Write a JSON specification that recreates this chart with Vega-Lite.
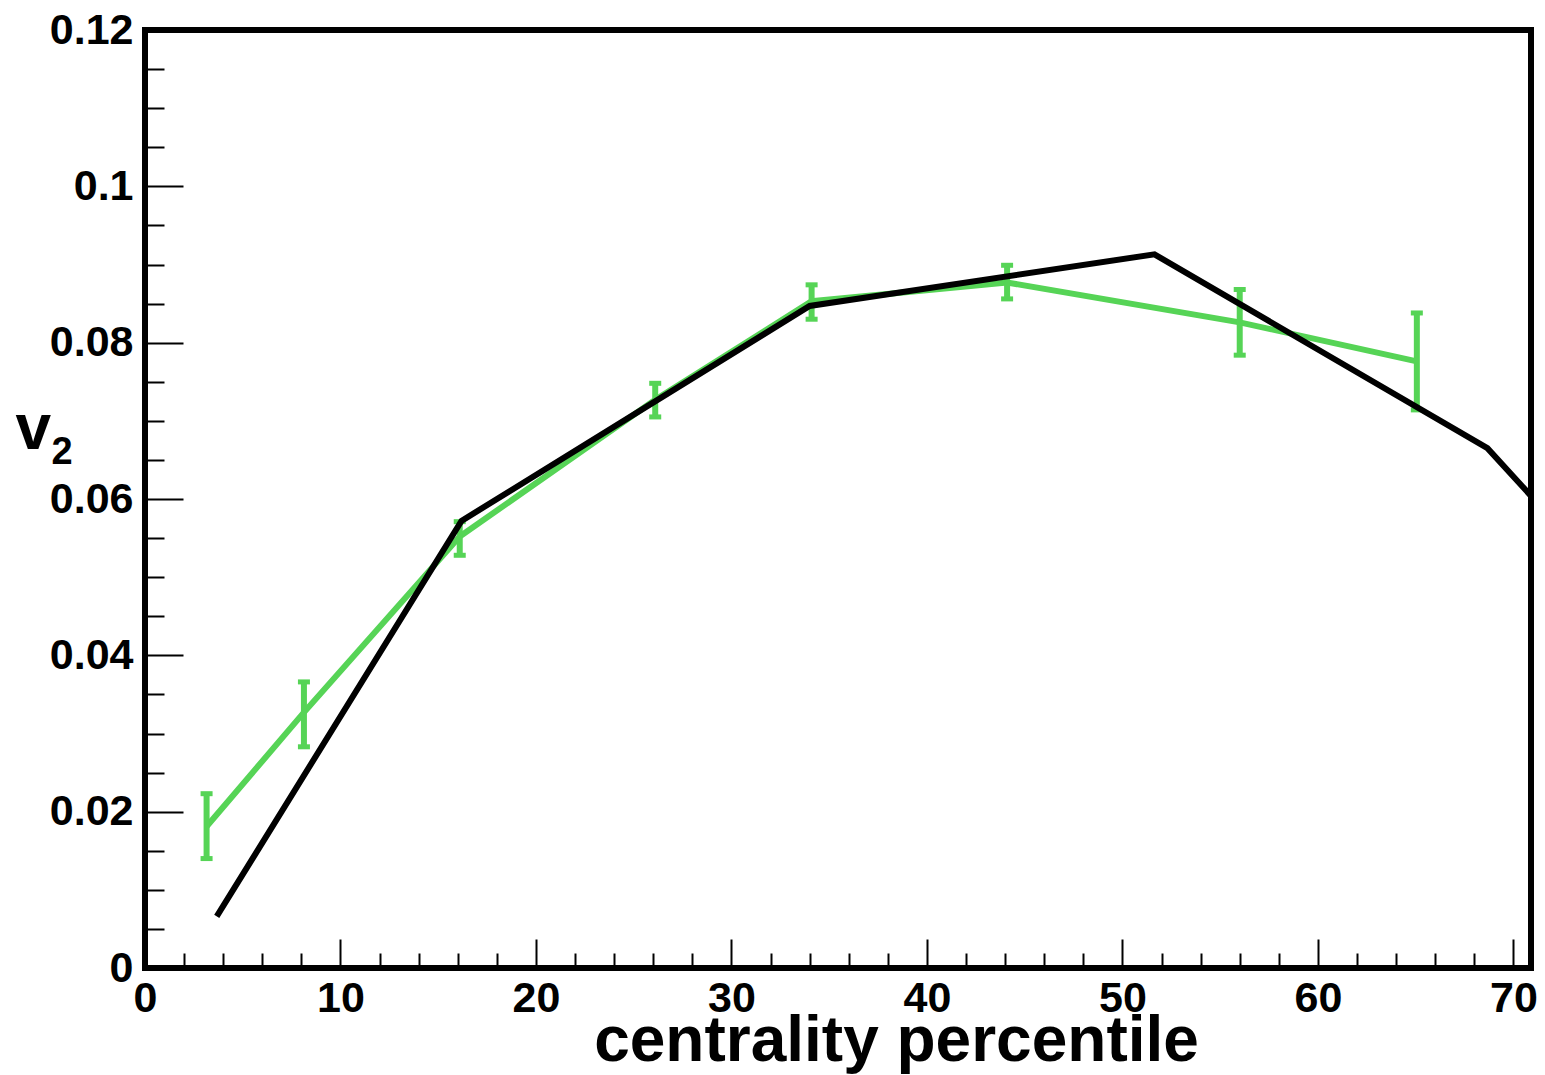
{
  "$schema": "https://vega.github.io/schema/vega-lite/v6.json",
  "width": 1386,
  "height": 938,
  "autosize": "none",
  "padding": {"left": 145, "top": 30, "right": 14, "bottom": 107},
  "background": "white",
  "config": {
    "view": {"stroke": "black", "strokeWidth": 6},
    "font": "Liberation Sans",
    "axis": {
      "labelFont": "Liberation Sans",
      "titleFont": "Liberation Sans",
      "labelFontWeight": "bold",
      "titleFontWeight": "bold",
      "labelColor": "black",
      "titleColor": "black",
      "grid": false,
      "domain": false,
      "tickColor": "black",
      "tickWidth": 2
    }
  },
  "datasets": {
    "meas": [
      {"c": 3.15, "v2": 0.0181, "lo": 0.0140, "hi": 0.0223},
      {"c": 8.13, "v2": 0.0327, "lo": 0.0283, "hi": 0.0366},
      {"c": 16.1, "v2": 0.0552, "lo": 0.0528, "hi": 0.0571},
      {"c": 26.1, "v2": 0.0727, "lo": 0.0705, "hi": 0.0748},
      {"c": 34.1, "v2": 0.0853, "lo": 0.0830, "hi": 0.0874},
      {"c": 44.1, "v2": 0.0877, "lo": 0.0856, "hi": 0.0899},
      {"c": 56.0, "v2": 0.0826, "lo": 0.0784, "hi": 0.0868},
      {"c": 65.06, "v2": 0.0776, "lo": 0.0714, "hi": 0.0838}
    ],
    "model": [
      {"c": 3.67, "v2": 0.0066},
      {"c": 16.19, "v2": 0.0572},
      {"c": 34.0, "v2": 0.0847},
      {"c": 51.64, "v2": 0.0913},
      {"c": 68.67, "v2": 0.0665},
      {"c": 70.9, "v2": 0.0604}
    ]
  },
  "resolve": {"axis": {"x": "independent", "y": "independent"}},
  "layer": [
    {
      "data": {"name": "meas"},
      "mark": {"type": "line", "color": "#56d456", "strokeWidth": 6},
      "encoding": {
        "x": {
          "field": "c", "type": "quantitative",
          "scale": {"domain": [0, 70.9], "nice": false, "zero": false},
          "axis": {
            "orient": "bottom",
            "values": [2, 4, 6, 8, 12, 14, 16, 18, 22, 24, 26, 28, 32, 34, 36, 38, 42, 44, 46, 48, 52, 54, 56, 58, 62, 64, 66, 68],
            "tickSize": -15,
            "labels": false,
            "title": null
          }
        },
        "y": {
          "field": "v2", "type": "quantitative",
          "scale": {"domain": [0, 0.12], "nice": false, "zero": false},
          "axis": {
            "orient": "left",
            "values": [0.005, 0.01, 0.015, 0.025, 0.03, 0.035, 0.045, 0.05, 0.055, 0.065, 0.07, 0.075, 0.085, 0.09, 0.095, 0.105, 0.11, 0.115],
            "tickSize": -19,
            "labels": false,
            "title": "2",
            "titleFontSize": 38,
            "titleAngle": 0,
            "titleX": -94,
            "titleY": 433,
            "titleAlign": "left",
            "titleBaseline": "alphabetic"
          }
        }
      }
    },
    {
      "data": {"name": "meas"},
      "mark": {"type": "rule", "color": "#56d456", "strokeWidth": 6},
      "encoding": {
        "x": {"field": "c", "type": "quantitative", "scale": {"domain": [0, 70.9], "nice": false, "zero": false}, "axis": null},
        "y": {"field": "lo", "type": "quantitative", "scale": {"domain": [0, 0.12], "nice": false, "zero": false}, "axis": null},
        "y2": {"field": "hi"}
      }
    },
    {
      "data": {"name": "meas"},
      "mark": {"type": "tick", "orient": "horizontal", "color": "#56d456", "size": 12, "thickness": 5, "opacity": 1},
      "encoding": {
        "x": {"field": "c", "type": "quantitative", "scale": {"domain": [0, 70.9], "nice": false, "zero": false}, "axis": null},
        "y": {"field": "hi", "type": "quantitative", "scale": {"domain": [0, 0.12], "nice": false, "zero": false}, "axis": null}
      }
    },
    {
      "data": {"name": "meas"},
      "mark": {"type": "tick", "orient": "horizontal", "color": "#56d456", "size": 12, "thickness": 5, "opacity": 1},
      "encoding": {
        "x": {"field": "c", "type": "quantitative", "scale": {"domain": [0, 70.9], "nice": false, "zero": false}, "axis": null},
        "y": {"field": "lo", "type": "quantitative", "scale": {"domain": [0, 0.12], "nice": false, "zero": false}, "axis": null}
      }
    },
    {
      "data": {"name": "model"},
      "mark": {"type": "line", "color": "black", "strokeWidth": 6},
      "encoding": {
        "x": {
          "field": "c", "type": "quantitative",
          "scale": {"domain": [0, 70.9], "nice": false, "zero": false},
          "axis": {
            "orient": "bottom",
            "values": [0, 10, 20, 30, 40, 50, 60, 70],
            "tickSize": -29,
            "labelPadding": 38,
            "labelFontSize": 43,
            "labelFlush": false,
            "labelOverlap": false,
            "title": "centrality percentile",
            "titleFontSize": 64,
            "titleX": 751,
            "titleY": 92,
            "titleAlign": "center",
            "titleBaseline": "alphabetic"
          }
        },
        "y": {
          "field": "v2", "type": "quantitative",
          "scale": {"domain": [0, 0.12], "nice": false, "zero": false},
          "axis": {
            "orient": "left",
            "values": [0, 0.02, 0.04, 0.06, 0.08, 0.1, 0.12],
            "format": ".2~f",
            "tickSize": -38,
            "labelPadding": 50,
            "labelFontSize": 43,
            "labelFlush": false,
            "labelOverlap": false,
            "title": "v",
            "titleFontSize": 64,
            "titleAngle": 0,
            "titleX": -130,
            "titleY": 418,
            "titleAlign": "left",
            "titleBaseline": "alphabetic"
          }
        }
      }
    }
  ]
}
